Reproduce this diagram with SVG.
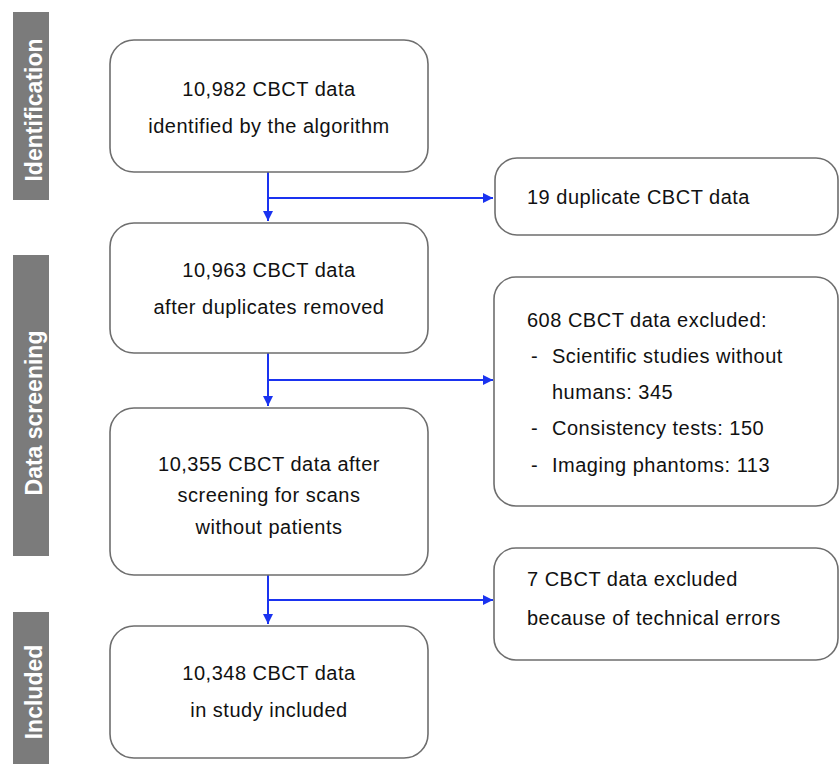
<svg xmlns="http://www.w3.org/2000/svg" width="840" height="764" viewBox="0 0 840 764">
<style>
.bar{fill:#7b7b7b}
.lab{font-family:"Liberation Sans",Arial,sans-serif;font-weight:bold;font-size:23px;fill:#ffffff;text-anchor:middle}
.box{fill:#ffffff;stroke:#6e6e6e;stroke-width:1.6}
.t{font-family:"Liberation Sans",Arial,sans-serif;font-size:20px;letter-spacing:0.5px;fill:#111111}
.c{text-anchor:middle}
.con{fill:none;stroke:#1a33f0;stroke-width:2}
</style>
<defs>
<marker id="ah" viewBox="0 0 10 10" refX="10" refY="5" markerWidth="5" markerHeight="5" orient="auto" markerUnits="strokeWidth">
<path d="M0,0 L10,5 L0,10 z" fill="#1a33f0"/>
</marker>
</defs>
<rect width="840" height="764" fill="#ffffff"/>
<g id="phase-identification">
<rect class="bar" x="13" y="12" width="36" height="188"/>
<text class="lab" transform="translate(42,110) rotate(-90)">Identification</text>
</g>
<g id="phase-screening">
<rect class="bar" x="13" y="255" width="36" height="301"/>
<text class="lab" transform="translate(42,413) rotate(-90)">Data screening</text>
</g>
<g id="phase-included">
<rect class="bar" x="13" y="612" width="36" height="152"/>
<text class="lab" transform="translate(42,692) rotate(-90)">Included</text>
</g>
<g id="connectors">
<path class="con" d="M268,172 V221" marker-end="url(#ah)"/>
<path class="con" d="M268,198 H493" marker-end="url(#ah)"/>
<path class="con" d="M268,353 V406" marker-end="url(#ah)"/>
<path class="con" d="M268,380 H493" marker-end="url(#ah)"/>
<path class="con" d="M268,575 V624" marker-end="url(#ah)"/>
<path class="con" d="M268,600 H493" marker-end="url(#ah)"/>
</g>
<g id="n1">
<rect class="box" x="110" y="40" width="318" height="132" rx="24"/>
<text class="t c" x="269" y="96">10,982 CBCT data</text>
<text class="t c" x="269" y="133">identified by the algorithm</text>
</g>
<g id="n2">
<rect class="box" x="110" y="223" width="318" height="130" rx="24"/>
<text class="t c" x="269" y="277">10,963 CBCT data</text>
<text class="t c" x="269" y="314">after duplicates removed</text>
</g>
<g id="n3">
<rect class="box" x="110" y="408" width="318" height="167" rx="24"/>
<text class="t c" x="269" y="471">10,355 CBCT data after</text>
<text class="t c" x="269" y="502">screening for scans</text>
<text class="t c" x="269" y="534">without patients</text>
</g>
<g id="n4">
<rect class="box" x="110" y="626" width="318" height="132" rx="24"/>
<text class="t c" x="269" y="680">10,348 CBCT data</text>
<text class="t c" x="269" y="717">in study included</text>
</g>
<g id="e1">
<rect class="box" x="495" y="158" width="343" height="77" rx="22"/>
<text class="t" x="527" y="204">19 duplicate CBCT data</text>
</g>
<g id="e2">
<rect class="box" x="494" y="277" width="344" height="229" rx="22"/>
<text class="t" x="527" y="327">608 CBCT data excluded:</text>
<text class="t" x="531" y="363">-</text>
<text class="t" x="552" y="363">Scientific studies without</text>
<text class="t" x="552" y="399">humans: 345</text>
<text class="t" x="531" y="435">-</text>
<text class="t" x="552" y="435">Consistency tests: 150</text>
<text class="t" x="531" y="472">-</text>
<text class="t" x="552" y="472">Imaging phantoms: 113</text>
</g>
<g id="e3">
<rect class="box" x="494" y="548" width="344" height="112" rx="22"/>
<text class="t" x="527" y="586">7 CBCT data excluded</text>
<text class="t" x="527" y="625">because of technical errors</text>
</g>
</svg>
